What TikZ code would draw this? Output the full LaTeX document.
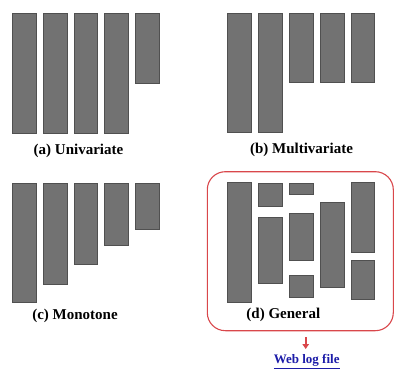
\documentclass[tikz,border=0pt]{standalone}
\usepackage{fontspec}
\setmainfont{Liberation Serif}
\usetikzlibrary{arrows.meta}
\definecolor{barfill}{HTML}{727272}
\definecolor{baredge}{HTML}{505050}
\definecolor{boxred}{HTML}{D9474B}
\definecolor{linkblue}{HTML}{1C1CA8}
\tikzset{
  bar/.style={fill=barfill, draw=baredge, line width=0.6pt},
  caption/.style={font=\bfseries\fontsize{15}{18}\selectfont, inner sep=0pt},
}
\begin{document}
\begin{tikzpicture}[x=1pt,y=-1pt]
\useasboundingbox (0,0) rectangle (397,380);

% (a) univariate
\foreach \x in {12.3,43.1,73.9,104.7}
  \filldraw[bar] (\x,13.3) rectangle ++(23.7,120);
\filldraw[bar] (135.5,13.3) rectangle (159.2,83);
\node[caption] (capa) at (78.5,151) {(a) Univariate};

% (b) multivariate
\foreach \x in {227.7,258.5}
  \filldraw[bar] (\x,13.3) rectangle ++(23.7,119.4);
\foreach \x in {289.3,320.1,350.9}
  \filldraw[bar] (\x,13.3) rectangle ++(23.7,69.4);
\node[caption] (capb) at (301.5,150) {(b) Multivariate};

% (c) monotone
\foreach \x/\b in {12.3/302.7,43.1/284,73.9/264.3,104.7/245,135.5/229.3}
  \filldraw[bar] (\x,183.3) rectangle (\x+23.7,\b);
\node[caption] (capc) at (75,316) {(c) Monotone};

% (d) general
\draw[boxred, line width=1.1pt, rounded corners=18pt] (207.3,171.7) rectangle (393.3,330.7);
\filldraw[bar] (227.7,182.7) rectangle (251.4,302.7);
\filldraw[bar] (258.5,183.3) rectangle (282.2,206);
\filldraw[bar] (258.5,217.3) rectangle (282.2,283.3);
\filldraw[bar] (289.3,183.3) rectangle (313,194.7);
\filldraw[bar] (289.3,213.3) rectangle (313,260);
\filldraw[bar] (289.3,275.3) rectangle (313,297.3);
\filldraw[bar] (320.1,202) rectangle (343.8,287.3);
\filldraw[bar] (350.9,182.7) rectangle (374.6,252.7);
\filldraw[bar] (350.9,260) rectangle (374.6,299.3);
\node[caption] (capd) at (283.3,315) {(d) General};

% output
\coordinate (from) at (305.7,337);
\coordinate (to) at (305.7,349);
\node[font=\bfseries\fontsize{13}{15}\selectfont, text=linkblue, inner sep=1pt] (weblog) at (306.7,361.5) {\underline{Web log file}};
\draw[boxred, line width=1.8pt, -{Triangle[length=5pt,width=6.5pt]}] (from) -- (to);
\end{tikzpicture}
\end{document}
